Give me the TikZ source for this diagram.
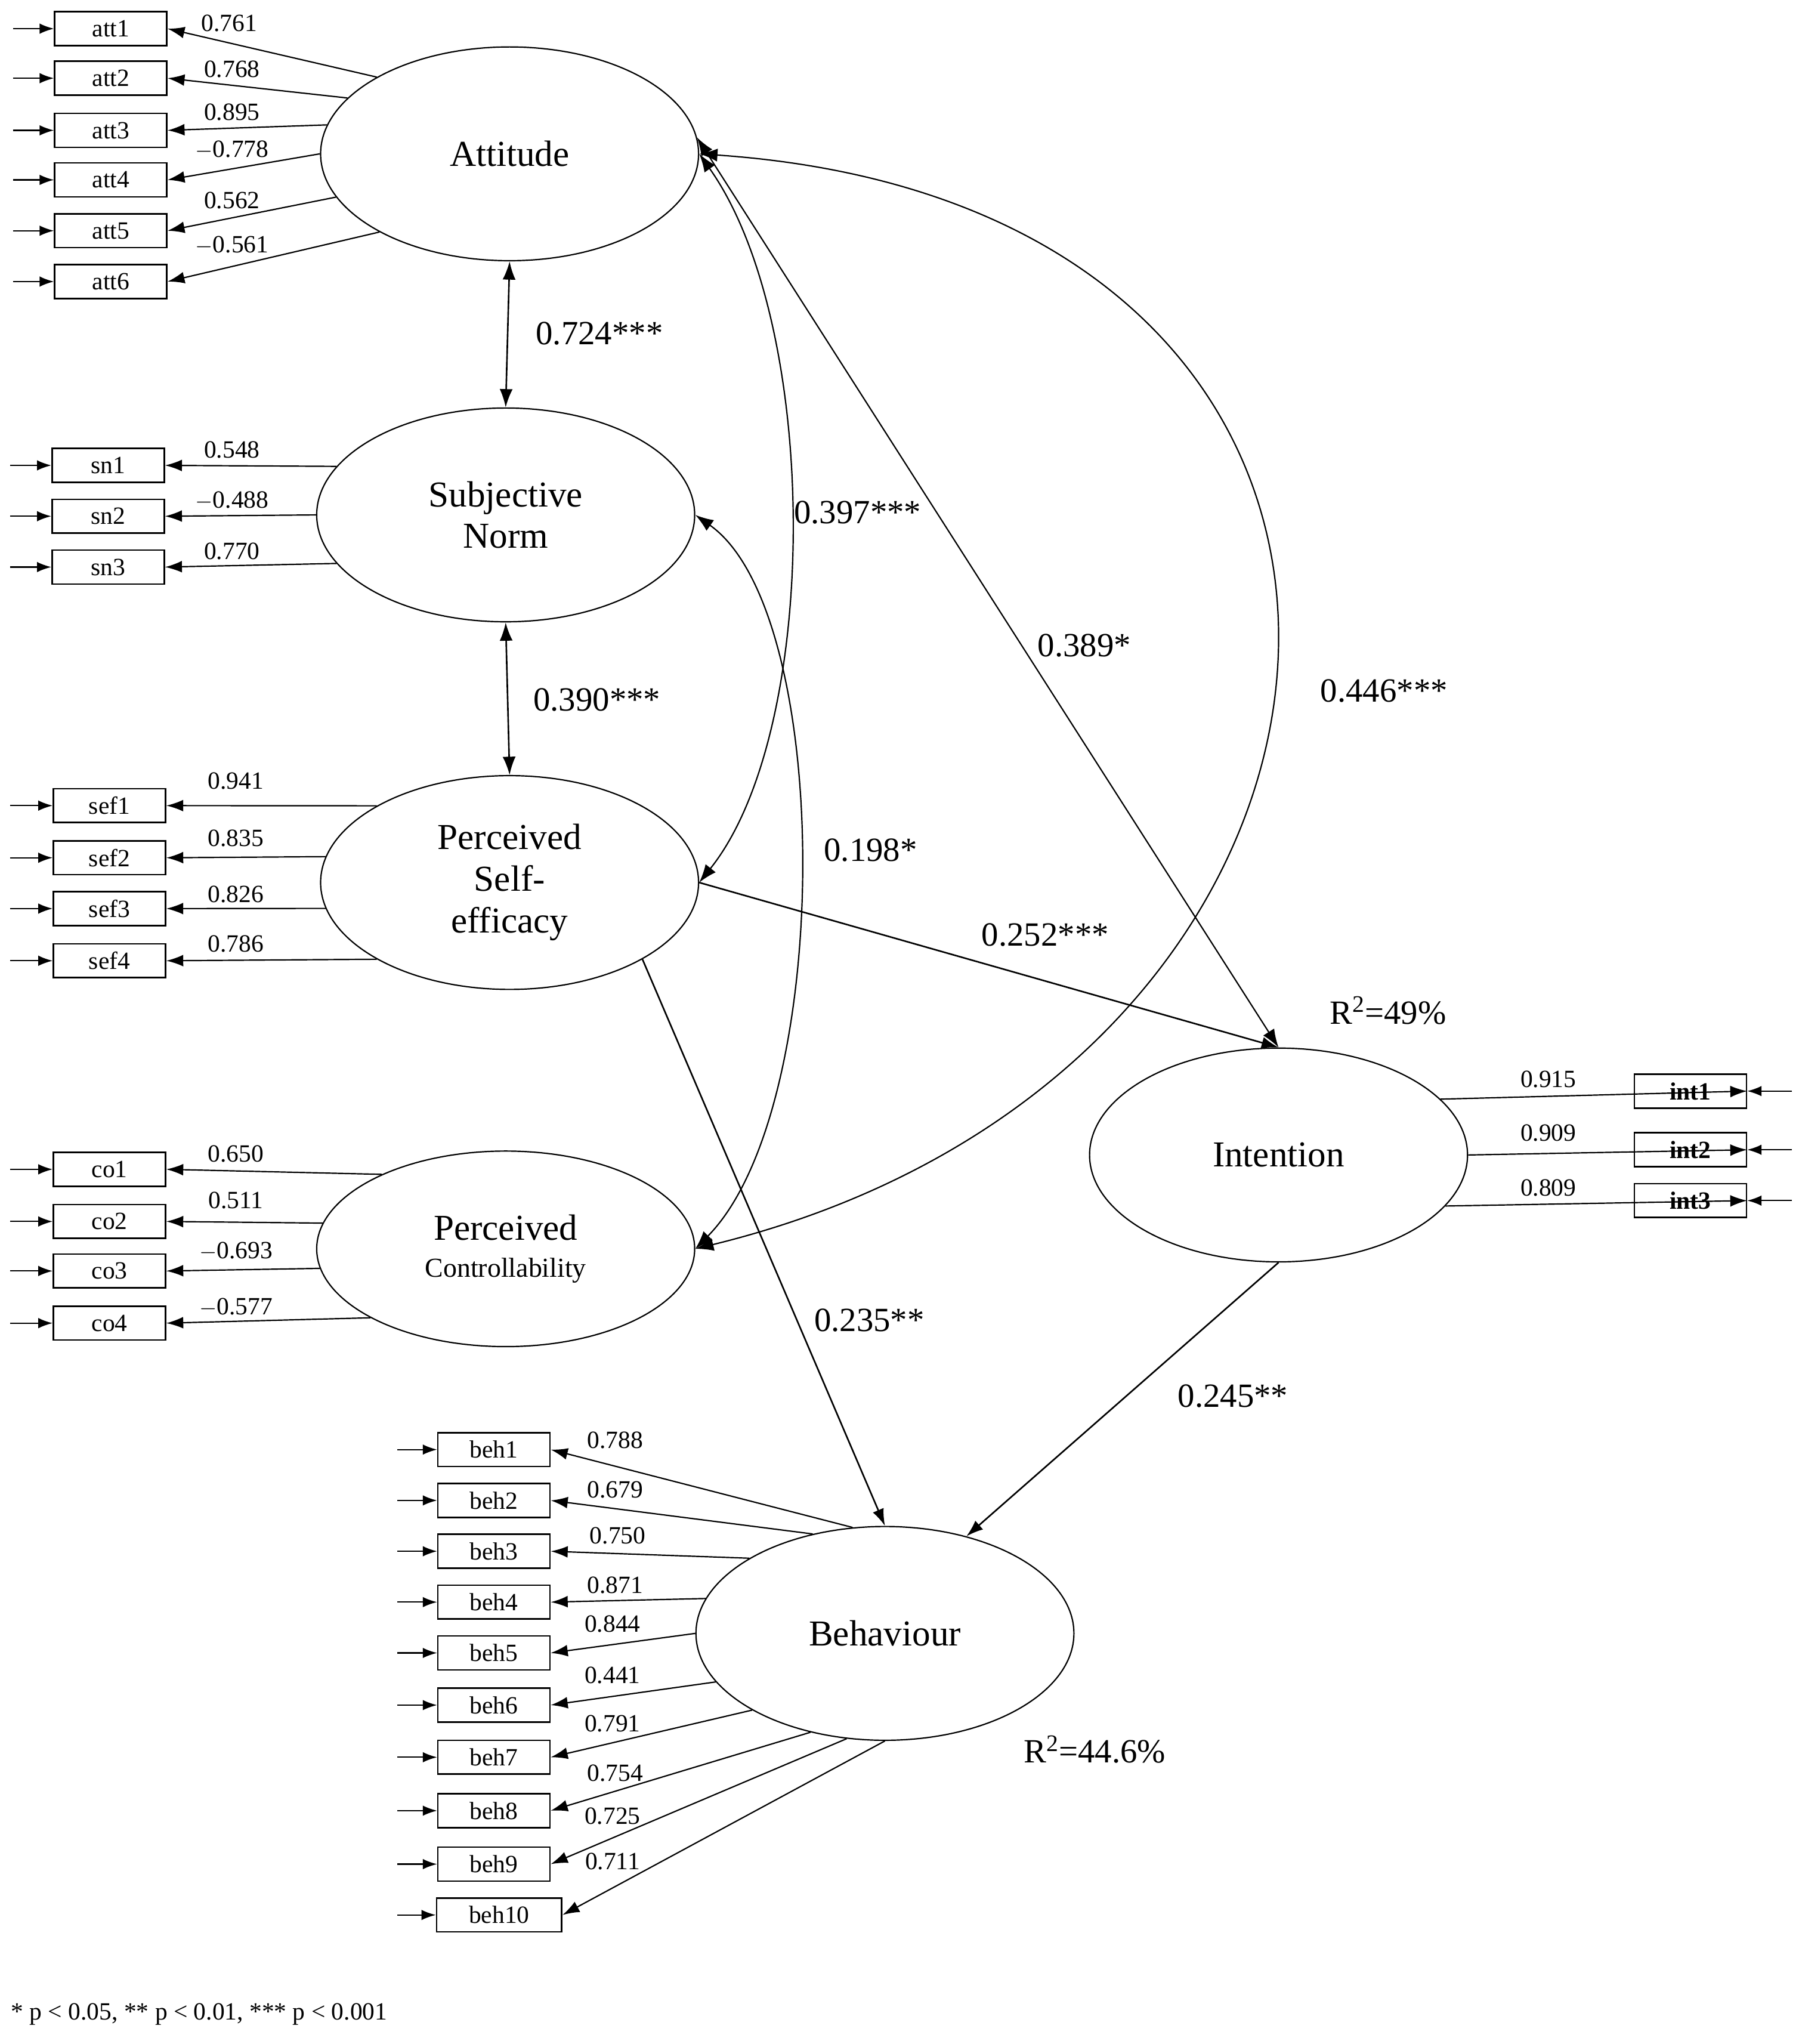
\documentclass[tikz,border=0pt]{standalone}
\usepackage{fontspec}
\setmainfont{Liberation Serif}
\usetikzlibrary{shapes.geometric,arrows.meta}
\begin{document}
\begin{tikzpicture}[x=1pt,y=-1pt,
 lat/.style={ellipse,draw,line width=1pt,minimum width=290pt,minimum height=164pt,font=\fontsize{28}{32}\selectfont,align=center},
 box/.style={draw,line width=1.2pt,minimum width=86pt,minimum height=26pt,inner sep=0pt,font=\fontsize{19}{20}\selectfont},
 ld/.style={-{Latex[length=13pt,width=9pt]},line width=1pt},
 err/.style={-{Latex[length=11pt,width=8pt]},line width=1pt},
 dbl/.style={{Latex[length=14pt,width=10pt]}-{Latex[length=14pt,width=10pt]},line width=1.2pt},
 num/.style={font=\fontsize{19}{20}\selectfont,inner sep=1pt},
 big/.style={font=\fontsize{26}{28}\selectfont,inner sep=1pt}]
\useasboundingbox (0,0) rectangle (1380,1568);
\node[lat] (A) at (391,118) {Attitude};
\node[lat] (S) at (388,395) {Subjective\\Norm};
\node[lat] (P) at (391,677) {Perceived\\Self-\\efficacy};
\node[lat,minimum height=150pt] (C) at (388,958) {Perceived\\[-4pt]{\fontsize{21}{24}\selectfont Controllability}};
\node[lat] (I) at (981,886) {Intention};
\node[lat] (B) at (679,1253) {Behaviour};
% boxes
\foreach \n/\y in {1/22,2/60,3/100,4/138,5/177,6/216}{\node[box] (att\n) at (85,\y) {att\n}; \coordinate (eatt\n) at (10,\y); \draw[err] (eatt\n) -- (att\n.west);}
\foreach \n/\y in {1/357,2/396,3/435}{\node[box] (sn\n) at (83,\y) {sn\n}; \coordinate (esn\n) at (8,\y); \draw[err] (esn\n) -- (sn\n.west);}
\foreach \n/\y in {1/618,2/658,3/697,4/737}{\node[box] (sef\n) at (84,\y) {sef\n}; \coordinate (esef\n) at (8,\y); \draw[err] (esef\n) -- (sef\n.west);}
\foreach \n/\y in {1/897,2/937,3/975,4/1015}{\node[box] (co\n) at (84,\y) {co\n}; \coordinate (eco\n) at (8,\y); \draw[err] (eco\n) -- (co\n.west);}
\foreach \n/\y in {1/1112,2/1151,3/1190,4/1229,5/1268,6/1308,7/1348,8/1389,9/1430}{\node[box] (beh\n) at (379,\y) {beh\n}; \coordinate (ebeh\n) at (305,\y); \draw[err] (ebeh\n) -- (beh\n.west);}
\node[box,minimum width=96pt] (beh10) at (383,1469) {beh10}; \coordinate (ebeh10) at (305,1469); \draw[err] (ebeh10) -- (beh10.west);
\foreach \n/\y in {1/837,2/882,3/921}{\node[box,font=\fontsize{19}{20}\selectfont\bfseries] (int\n) at (1297,\y) {int\n}; \coordinate (eint\n) at (1375,\y); \draw[err] (eint\n) -- (int\n.east);}
% loadings
\foreach \n/\a/\v/\lx/\ly in {1/150/0.761/176/18,2/161/0.768/178/53,3/171/0.895/178/86,4/180/$-$0.778/178/115,5/194/0.562/178/154,6/211/$-$0.561/178/188}
 {\draw[ld] (A.\a) -- (att\n.east); \node[num] at (\lx,\ly) {\v};}
\foreach \n/\a/\v/\ly in {1/164/0.548/345,2/180/$-$0.488/384,3/196/0.770/423}
 {\draw[ld] (S.\a) -- (sn\n.east); \node[num] at (178,\ly) {\v};}
\foreach \n/\a/\v/\ly in {1/150/0.941/599,2/172/0.835/643,3/188/0.826/686,4/210/0.786/724}
 {\draw[ld] (P.\a) -- (sef\n.east); \node[num] at (181,\ly) {\v};}
\foreach \n/\a/\v/\ly in {1/149/0.650/885,2/172/0.511/921,3/186/$-$0.693/960,4/207/$-$0.577/1003}
 {\draw[ld] (C.\a) -- (co\n.east); \node[num] at (181,\ly) {\v};}
\foreach \n/\a/\v/\ly in {1/19/0.915/828,2/0/0.909/869,3/-17/0.809/911}
 {\draw[ld] (I.\a) -- (int\n.east); \node[num] at (1188,\ly) {\v};}
\foreach \n/\a/\v/\lx/\ly in {1/107/0.788/472/1105,2/126/0.679/472/1143,3/151/0.750/474/1178,4/169/0.871/472/1216,5/180/0.844/470/1246,6/196/0.441/470/1285,7/210/0.791/470/1322,8/233/0.754/472/1360,9/250/0.725/470/1393,10/270/0.711/470/1428}
 {\draw[ld] (B.\a) -- (beh\n.east); \node[num] at (\lx,\ly) {\v};}
% correlations
\draw[dbl] (A.south) -- (S.north);
\node[big] at (460,256) {0.724***};
\draw[dbl] (S.south) -- (P.north);
\node[big] at (458,537) {0.390***};
\draw[dbl,line width=1pt] (A.east) .. controls (630,250) and (630,560) .. (P.east);
\node[big] at (658,393) {0.397***};
\draw[dbl,line width=1pt] (S.east) .. controls (640,470) and (640,850) .. (C.east);
\node[big] at (668,652) {0.198*};
\draw[dbl,line width=1pt] (A.east) .. controls (1150,160) and (1100,820) .. (C.east);
\node[big] at (1062,530) {0.446***};
\draw[dbl,line width=1pt] (A.5) -- (I.north);
\node[big] at (832,495) {0.389*};
\draw[ld,line width=1.2pt] (P.east) -- (I.north);
\node[big] at (802,717) {0.252***};
\draw[ld,line width=1.2pt] (P.-30) -- (B.north);
\node[big] at (667,1013) {0.235**};
\draw[ld,line width=1.2pt] (I.south) -- (B.50);
\node[big] at (946,1071) {0.245**};
\node[big] at (1065,775) {R\textsuperscript{2}=49\%};
\node[big] at (840,1342) {R\textsuperscript{2}=44.6\%};
\node[font=\fontsize{19}{20}\selectfont,anchor=west] at (5,1545) {* p < 0.05, ** p < 0.01, *** p < 0.001};
\end{tikzpicture}
\end{document}
